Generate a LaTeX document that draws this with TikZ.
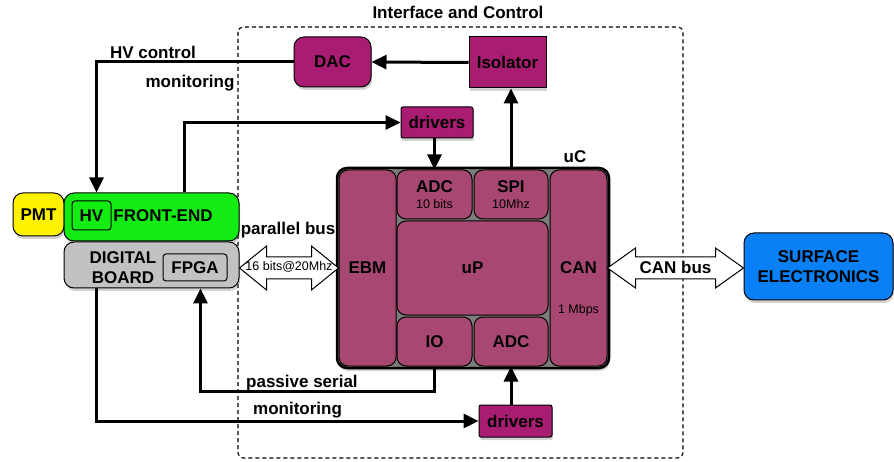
\documentclass[tikz,border=0pt]{standalone}
\usepackage{fontspec}
\setmainfont{Liberation Sans}
\usepackage{tikz}
\usetikzlibrary{arrows.meta, calc, shadows}
\definecolor{ctlbox}{HTML}{A81D71}
\definecolor{ucbox}{HTML}{A84872}
\definecolor{ucgap}{HTML}{7C7C7C}
\definecolor{febox}{HTML}{12EC12}
\definecolor{dbbox}{HTML}{C2C2C2}
\definecolor{sebox}{HTML}{0A80F6}
\tikzset{
    shd/.style={drop shadow={opacity=0.35, shadow xshift=1pt, shadow yshift=-3pt}}, % 阴影
    blk/.style={draw, line width=1pt, inner sep=0pt, align=center, font=\bfseries\fontsize{17}{19.5}\selectfont}, % 方框
    ctl/.style={blk, fill=ctlbox, shd}, % 控制部分的方框
    sub/.style={blk, fill=ucbox, rounded corners=9pt}, % uC 内部的方框
    conn/.style={line width=3pt, -{Triangle[length=15pt, width=14pt]}}, % 连线
    bus/.style={draw, fill=white, line width=1pt, line join=miter}, % 总线双箭头
    frame/.style={dash pattern=on 4pt off 3pt, line width=1.1pt, rounded corners=5pt}, % 虚线框
    lbl/.style={inner sep=0pt, align=center, font=\bfseries\fontsize{17}{19.5}\selectfont}, % 文字
    smalltxt/.style={inner sep=0pt, font=\fontsize{12.5}{13}\selectfont} % 小字
}
\begin{document}
\begin{tikzpicture}[x=1pt, y=-1pt]
    \useasboundingbox (0,0) rectangle (894,462);

    \draw[frame] (238,27) rectangle (683,458);
    \node[lbl] (title) at (458,12) {Interface and Control};

    \node[ctl, rounded corners=10pt, minimum width=77pt, minimum height=50pt] (dac) at (332.5,62) {DAC};
    \node[ctl, minimum width=77pt, minimum height=51pt] (iso) at (507.5,62.5) {Isolator};
    \node[ctl, rounded corners=2pt, minimum width=72pt, minimum height=31pt] (drvtop) at (437,122.5) {drivers};
    \node[ctl, rounded corners=2pt, minimum width=73pt, minimum height=32pt] (drvbot) at (515.5,421) {drivers};

    % uC
    \node[draw, line width=2.5pt, fill=ucgap, rounded corners=10pt, minimum width=272pt, minimum height=200pt, shd] (uc) at (473,268) {};
    \node[sub, minimum width=57pt, minimum height=196pt] (ebm) at (367.5,268) {EBM};
    \node[sub, minimum width=75pt, minimum height=49pt] (adctop) at (434.5,194.5) {ADC\\[-4pt]{\mdseries\fontsize{12.5}{13}\selectfont 10 bits}};
    \node[sub, minimum width=74pt, minimum height=49pt] (spi) at (511,194.5) {SPI\\[-4pt]{\mdseries\fontsize{12.5}{13}\selectfont 10Mhz}};
    \node[sub, minimum width=151pt, minimum height=94pt] (up) at (472.5,268) {uP};
    \node[sub, minimum width=75pt, minimum height=49pt] (io) at (434.5,341.5) {IO};
    \node[sub, minimum width=74pt, minimum height=49pt] (adcbot) at (511,341.5) {ADC};
    \node[sub, minimum width=57pt, minimum height=196pt] (can) at (578.5,268) {CAN};
    \node[smalltxt] (mbps) at ($(can.center)+(0,42)$) {1 Mbps};
    \node[lbl] (uclbl) at (575,157) {uC};

    % 左边的板
    \node[blk, fill=yellow, rounded corners=10pt, minimum width=51pt, minimum height=43pt, shd] (pmt) at (38.5,214.5) {PMT};
    \node[blk, fill=febox, rounded corners=10pt, minimum width=175pt, minimum height=48pt, shd] (fe) at (151.5,217) {};
    \node[blk, rounded corners=3pt, minimum width=39pt, minimum height=29pt] (hv) at (91.5,215.5) {HV};
    \node[lbl] (fetxt) at (163,216) {FRONT-END};
    \node[blk, fill=dbbox, rounded corners=10pt, minimum width=175pt, minimum height=46pt, shd] (db) at (151.5,265) {};
    \node[lbl] (dbtxt) at (123,267.5) {DIGITAL\\BOARD};
    \node[blk, rounded corners=3pt, minimum width=64pt, minimum height=27pt] (fpga) at (195,267.5) {FPGA};

    \node[blk, fill=sebox, rounded corners=10pt, minimum width=149pt, minimum height=67pt, shd] (se) at (818.5,266.5) {SURFACE\\ELECTRONICS};

    % 总线
    \draw[bus] let \p1=(db.east), \p2=(ebm.west) in
        (\x1,\y2) -- (\x1+27pt,\y2+22pt) -- (\x1+27pt,\y2+11pt) -- (\x2-27pt,\y2+11pt) -- (\x2-27pt,\y2+22pt)
        -- (\x2,\y2) -- (\x2-27pt,\y2-22pt) -- (\x2-27pt,\y2-11pt) -- (\x1+27pt,\y2-11pt) -- (\x1+27pt,\y2-22pt) -- cycle;
    \node[smalltxt] (pbtxt) at ($(db.east)!0.5!(ebm.west)$) {16 bits@20Mhz};
    \node[lbl] (pblbl) at (288,230) {parallel bus};
    \draw[bus] let \p1=(can.east), \p2=(se.west) in
        (\x1,\y1) -- (\x1+28pt,\y1+20pt) -- (\x1+28pt,\y1+11pt) -- (\x2-28pt,\y1+11pt) -- (\x2-28pt,\y1+20pt)
        -- (\x2,\y1) -- (\x2-28pt,\y1-20pt) -- (\x2-28pt,\y1-11pt) -- (\x1+28pt,\y1-11pt) -- (\x1+28pt,\y1-20pt) -- cycle;
    \node[lbl] (cblbl) at ($(can.east)!0.5!(se.west)$) {CAN bus};

    % 连线
    \draw[conn] (iso.west) -- (dac.east);
    \draw[conn] (spi.north) -- (spi.north |- iso.south);
    \draw[conn] (adctop.north |- drvtop.south) -- (adctop.north);
    \draw[conn] (dac.west) -| ($(fe.north west)+(33,0)$);
    \draw[conn] ($(fe.north west)+(121,0)$) |- (drvtop.west);
    \draw[conn] (io.south) -- ++(0,25) -| ($(db.south west)+(137,0)$);
    \draw[conn] ($(db.south west)+(33,0)$) |- (drvbot.west);
    \draw[conn] (adcbot.south |- drvbot.north) -- (adcbot.south);

    \node[lbl] (hvlbl) at (153,52) {HV control};
    \node[lbl] (monlbl) at (190,83) {monitoring};
    \node[lbl, anchor=west] (pslbl) at (246,383) {passive serial};
    \node[lbl, anchor=west] (mon2lbl) at (253,410) {monitoring};
\end{tikzpicture}
\end{document}
